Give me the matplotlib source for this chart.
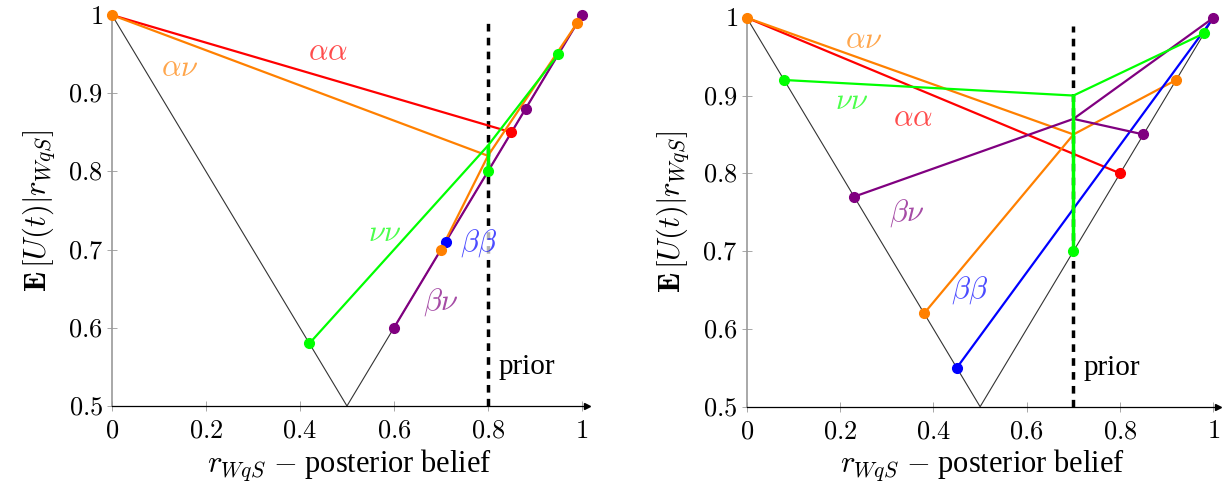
import matplotlib.pyplot as plt
import numpy as np

plt.rcParams['mathtext.fontset'] = 'cm'
plt.rcParams['font.family'] = ['Liberation Serif', 'DejaVu Serif']

# V-shaped hull (same in both panels)
v_x = [0, 0.5, 1]
v_y = [1, 0.5, 1]

x_ticks = [0, 0.2, 0.4, 0.6, 0.8, 1]
y_ticks = [0.5, 0.6, 0.7, 0.8, 0.9, 1]

# ---- left panel (prior 0.8)
prior_l = 0.8
aa_l_x, aa_l_y = [0, 0.85], [1, 0.85]
an_l_x, an_l_y = [0, 0.8], [1, 0.82]
bb_l_x, bb_l_y = [0.7, 0.8, 0.99], [0.7, 0.82, 0.99]   # orange lower branch
nn_l_x, nn_l_y = [0.42, 0.8, 0.95], [0.58, 0.833, 0.95]
nn_l_vx, nn_l_vy = [0.8, 0.8], [0.833, 0.8]
bn_l_x, bn_l_y = [0.6, 0.88, 1.0], [0.6, 0.88, 1.0]
dots_l = {
    'red': ([0.85], [0.85]),
    'green': ([0.42, 0.8, 0.95], [0.58, 0.8, 0.95]),
    'purple': ([0.6, 0.88, 1.0], [0.6, 0.88, 1.0]),
    'blue': ([0.71], [0.71]),
    'orange': ([0, 0.7, 0.99], [1, 0.7, 0.99]),
}

# ---- right panel (prior 0.7)
prior_r = 0.7
aa_r_x, aa_r_y = [0, 0.8], [1, 0.8]
an_r_x, an_r_y = [0, 0.7], [1, 0.85]
bb_r_x, bb_r_y = [0.38, 0.7, 0.92], [0.62, 0.85, 0.92]
nn_r_x, nn_r_y = [0.08, 0.7, 0.98], [0.92, 0.9, 0.98]
nn_r_vx, nn_r_vy = [0.7, 0.7], [0.9, 0.7]
bn_r_x, bn_r_y = [0.23, 0.7, 1.0], [0.77, 0.87, 1.0]
bn2_r_x, bn2_r_y = [0.7, 0.85], [0.87, 0.85]
blue_r_x, blue_r_y = [0.45, 1.0], [0.55, 1.0]
dots_r = {
    'red': ([0.8], [0.8]),
    'green': ([0.08, 0.7, 0.98], [0.92, 0.7, 0.98]),
    'purple': ([0.23, 0.85, 1.0], [0.77, 0.85, 1.0]),
    'blue': ([0.45], [0.55]),
    'orange': ([0, 0.38, 0.92], [1, 0.62, 0.92]),
}

C = {'red': '#ff0000', 'orange': '#ff8000', 'green': '#00ff00',
     'blue': '#0000ff', 'purple': '#800080'}

fig = plt.figure(figsize=(12.25, 4.93), dpi=100)
ax1 = fig.add_axes([0.0914, 0.1765, 0.3875, 0.793])
ax2 = fig.add_axes([0.6096, 0.175, 0.3848, 0.789])


def setup(ax, prior):
    ax.set_xlim(0, 1.01)
    ax.set_ylim(0.5, 1.0)
    ax.plot(v_x, v_y, color='#333333', lw=0.8)
    ax.plot([prior, prior], [0.5, 0.99], color='black', lw=2.5,
            dashes=(2.2, 1.8), zorder=2)
    for s in ['top', 'right']:
        ax.spines[s].set_visible(False)
    ax.spines['left'].set_color('#999999')
    ax.spines['left'].set_linewidth(1.2)
    ax.spines['bottom'].set_linewidth(0.9)
    ax.plot(1, 0, '>', color='black', markersize=5, transform=ax.transAxes,
            clip_on=False)
    ax.set_xticks(x_ticks)
    ax.set_yticks(y_ticks)
    ax.set_xticklabels(['$%g$' % t for t in x_ticks])
    ax.set_yticklabels(['$%g$' % t for t in y_ticks])
    ax.tick_params(direction='inout', length=7, width=0.6, color='#999999',
                   labelsize=19, pad=3)
    ax.tick_params(axis='x', pad=7)
    ax.set_xlabel(r'$r_{WqS}$ $-$ posterior belief', fontsize=22, labelpad=3)
    ax.set_ylabel(r'$\mathbf{E}\,[U(t)|r_{WqS}]$', fontsize=22, labelpad=8)
    ax.text(prior + 0.022, 0.55, 'prior', fontsize=21, va='center', ha='left')


def dots(ax, d):
    for c, (xs, ys) in d.items():
        ax.plot(xs, ys, 'o', color=C[c], markersize=7, clip_on=False, zorder=6)


lw = 1.6
setup(ax1, prior_l)
ax1.plot(aa_l_x, aa_l_y, color=C['red'], lw=lw)
ax1.plot(an_l_x, an_l_y, color=C['orange'], lw=lw)
ax1.plot(bn_l_x, bn_l_y, color=C['purple'], lw=lw)
ax1.plot(bb_l_x, bb_l_y, color=C['orange'], lw=lw)
ax1.plot(nn_l_x, nn_l_y, color=C['green'], lw=lw)
ax1.plot(nn_l_vx, nn_l_vy, color=C['green'], lw=2.5, zorder=4)
dots(ax1, dots_l)
lab = dict(fontsize=22, ha='center', va='center', alpha=0.7)
ax1.text(0.46, 0.952, r'$\alpha\alpha$', color=C['red'], **lab)
ax1.text(0.145, 0.932, r'$\alpha\nu$', color=C['orange'], **lab)
ax1.text(0.58, 0.72, r'$\nu\nu$', color=C['green'], **lab)
ax1.text(0.78, 0.708, r'$\beta\beta$', color=C['blue'], zorder=5,
         bbox=dict(facecolor='white', edgecolor='none', alpha=0.7, pad=0), **lab)
ax1.text(0.70, 0.633, r'$\beta\nu$', color=C['purple'], **lab)

setup(ax2, prior_r)
ax2.plot(aa_r_x, aa_r_y, color=C['red'], lw=lw)
ax2.plot(an_r_x, an_r_y, color=C['orange'], lw=lw)
ax2.plot(bb_r_x, bb_r_y, color=C['orange'], lw=lw)
ax2.plot(blue_r_x, blue_r_y, color=C['blue'], lw=lw)
ax2.plot(bn_r_x, bn_r_y, color=C['purple'], lw=lw)
ax2.plot(bn2_r_x, bn2_r_y, color=C['purple'], lw=lw)
ax2.plot(nn_r_x, nn_r_y, color=C['green'], lw=lw)
ax2.plot(nn_r_vx, nn_r_vy, color=C['green'], lw=2.5, zorder=4)
dots(ax2, dots_r)
ax2.text(0.25, 0.971, r'$\alpha\nu$', color=C['orange'], **lab)
ax2.text(0.225, 0.892, r'$\nu\nu$', color=C['green'], **lab)
ax2.text(0.357, 0.871, r'$\alpha\alpha$', color=C['red'], **lab)
ax2.text(0.343, 0.749, r'$\beta\nu$', color=C['purple'], **lab)
ax2.text(0.478, 0.65, r'$\beta\beta$', color=C['blue'], **lab)

fig.savefig('out.png', dpi=100)
